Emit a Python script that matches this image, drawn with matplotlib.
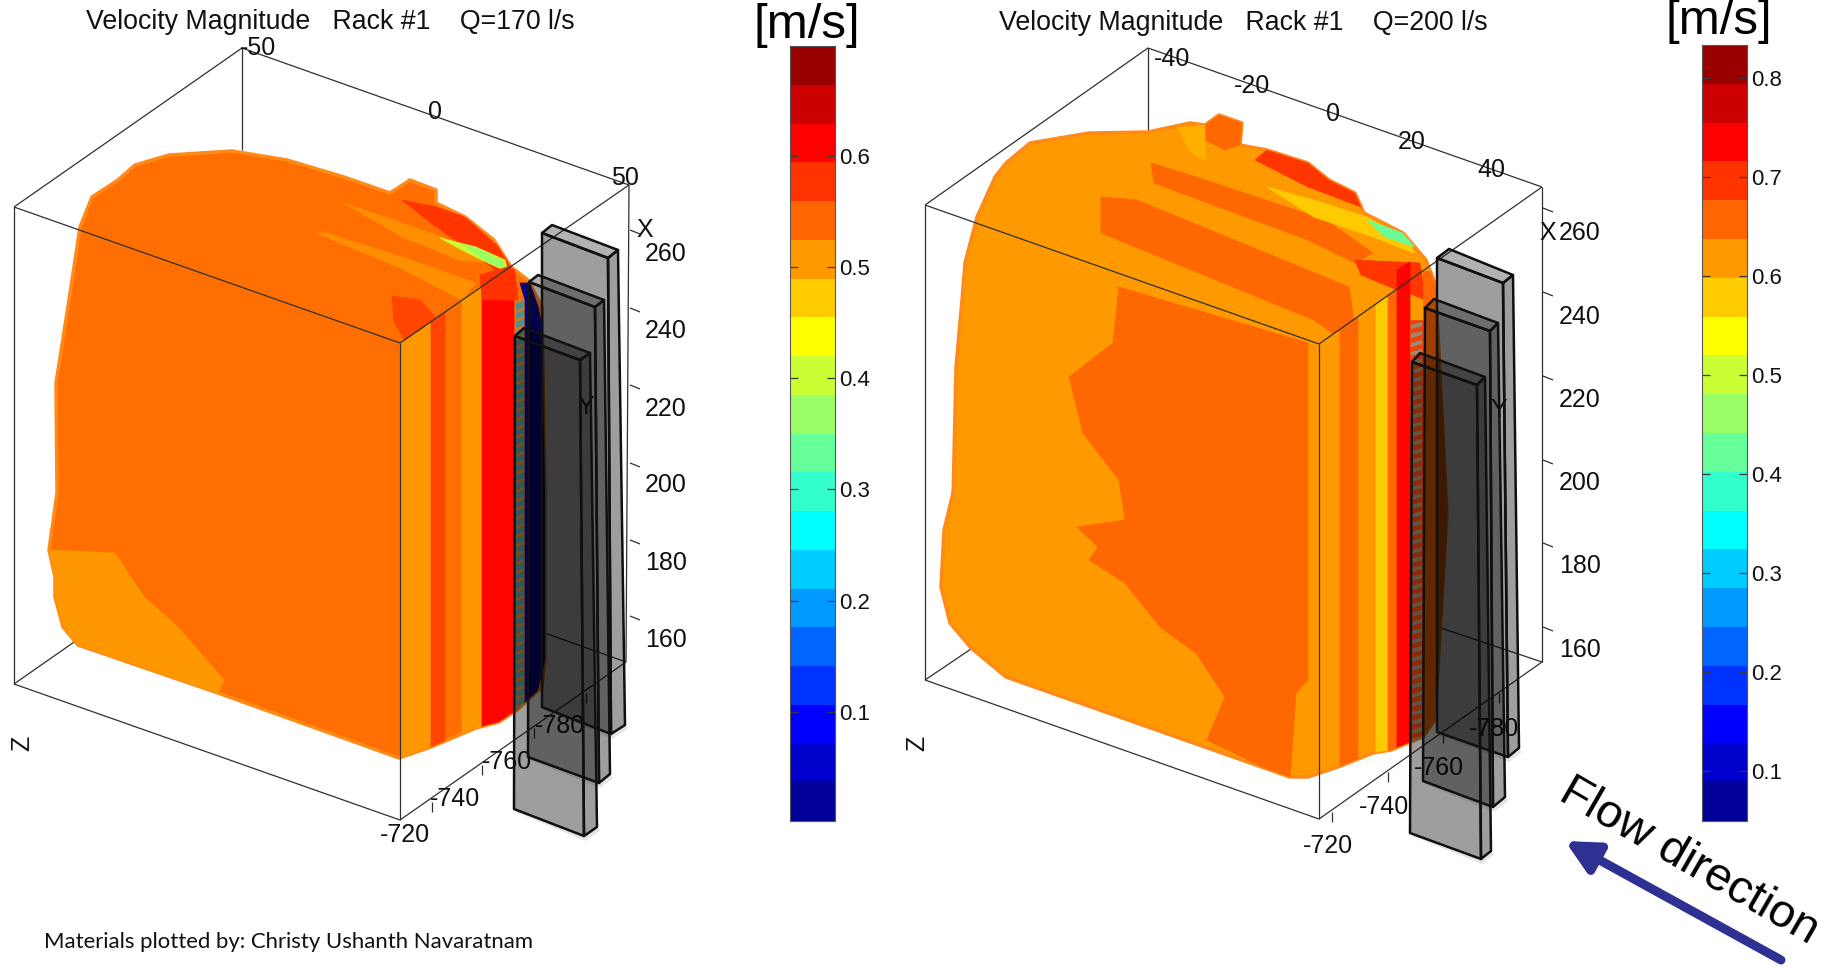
import numpy as np
from matplotlib import pyplot as plt
from matplotlib.colors import ListedColormap, BoundaryNorm
from matplotlib.patches import Polygon

plt.rcParams['font.family']=['Liberation Sans','DejaVu Sans']

W=1827
H=966

#20 contour levels, same on both bars
band_colors=['#000099','#0000CC','#0000FF','#0033FF','#0066FF','#0099FF','#00CCFF','#00FFFF','#33FFCC','#66FF99',
             '#99FF66','#CCFF33','#FFFF00','#FFCC00','#FF9900','#FF6600','#FF3300','#FF0000','#CC0000','#990000']
left_range=[0.002,0.6985]
right_range=[0.0495,0.833]
left_bar_ticks=[0.1,0.2,0.3,0.4,0.5,0.6]
right_bar_ticks=[0.1,0.2,0.3,0.4,0.5,0.6,0.7,0.8]

#left panel, picture pixels
left_solid=[(56,383),(69,300),(80,227),(92,197),(118,180),(135,165),(169,155),(232,151),(287,160),(344,177),(390,193),
            (410,180),(436,190),(436,203),(465,217),(494,240),(511,267),(528,280),(542,307),(545,500),(545,657),(542,687),
            (517,710),(499,722),(476,728),(431,747),(399,758),(218,693),(78,645),(63,627),(55,597),(55,577),(49,550),(57,493)]
left_strips=[
    ([(49,550),(115,553),(144,597),(178,627),(224,680),(218,693),(78,645),(63,627),(55,597)],'#FF9900'),
    ([(400,343),(431,322),(431,760),(400,770)],'#FF9900'),
    ([(431,322),(445,312),(445,760),(431,760)],'#FF4400'),
    ([(462,300),(482,285),(482,740),(462,740)],'#FF9900'),
    ([(316,233),(327,233),(402,257),(476,283),(462,300),(400,268)],'#FF9000'),
    ([(344,203),(402,223),(459,243),(494,263),(459,260),(402,237)],'#FF9000'),
    ([(392,296),(420,300),(436,318),(431,322),(405,340),(394,322)],'#FF4400'),
    ([(482,285),(514,270),(514,730),(482,730)],'#FF0000'),
    ([(402,200),(436,207),(465,217),(499,247),(511,267),(505,277),(459,243),(431,223)],'#FF3300'),
    ([(440,238),(476,247),(505,260),(508,272),(488,263),(462,250)],'#CCFF33'),
    ([(462,244),(482,250),(503,262),(506,270),(488,262)],'#99FF66'),
    ([(480,275),(514,265),(518,300),(482,300)],'#FF3300'),
    ([(515,300),(525,300),(525,720),(515,720)],'#C08030'),
    ([(520,283),(530,283),(538,307),(545,340),(545,660),(535,700),(525,710),(525,300)],'#000080'),
]
left_racks=[
    [(542,233),(552,225),(618,250),(608,258),(542,707),(611,734),(625,725)],
    [(529,282),(538,275),(604,300),(595,307),(528,757),(599,783),(610,774)],
    [(515,336),(524,328),(590,353),(580,360),(514,809),(584,836),(597,827)],
]
left_box=dict(back=(242,48),left=(14,207),front=(400,343),right=(629,185),left_low=(14,684),front_low=(400,820),right_low=(626,662),
              stub=(77,640),hidden=(542,632))
left_top_labels=[('-50',258,46),('0',435,110),('50',625,176)]
left_y_labels=[('260',666,252),('240',666,329),('220',666,407),('200',666,483),('180',666,561),('160',666,638)]
left_y_tick_rows=[230,308,385,463,540,616]
left_low_labels=[('-720',405,833),('-740',455,797),('-760',507,760),('-780',560,724)]
left_low_ticks=[(432,802),(482,765),(534,728),(586,693)]

#right panel, picture pixels
right_solid=[(953,500),(956,367),(962,300),(965,263),(977,217),(995,177),(1006,163),(1030,143),(1089,133),(1148,132),(1190,123),
             (1205,125),(1219,115),(1242,123),(1240,145),(1267,150),(1308,163),(1329,180),(1355,193),(1364,213),(1403,233),
             (1426,260),(1435,283),(1438,333),(1447,513),(1435,720),(1423,737),(1391,750),(1373,753),(1338,767),(1308,777),
             (1290,777),(1006,677),(971,648),(950,623),(941,587),(944,530),(953,493)]
right_strips=[
    ([(1119,287),(1308,343),(1308,680),(1296,693),(1290,780),(1207,740),(1225,697),(1196,653),(1160,627),(1125,583),(1089,560),
      (1098,547),(1077,527),(1125,520),(1119,480),(1083,433),(1069,377),(1113,343)],'#FF6600'),
    ([(1101,197),(1137,200),(1349,287),(1355,327),(1332,333),(1314,320),(1101,233)],'#FF6600'),
    ([(1151,163),(1196,177),(1326,220),(1373,253),(1355,263),(1308,240),(1154,183)],'#FF6600'),
    ([(1340,329),(1358,317),(1358,780),(1340,780)],'#FF6600'),
    ([(1376,304),(1388,295),(1388,780),(1376,780)],'#FFCC00'),
    ([(1388,295),(1397,289),(1397,780),(1388,780)],'#FF6600'),
    ([(1205,125),(1219,115),(1242,123),(1240,145),(1225,150),(1205,140)],'#FF6600'),
    ([(1178,128),(1205,125),(1205,160),(1190,152)],'#FFB000'),
    ([(1267,150),(1308,163),(1329,180),(1355,193),(1361,207),(1308,187),(1255,160)],'#FF3300'),
    ([(1267,187),(1314,200),(1367,217),(1409,240),(1414,253),(1373,237),(1314,217)],'#FFCC00'),
    ([(1367,220),(1403,233),(1415,247),(1385,237)],'#66FF99'),
    ([(1355,260),(1420,263),(1426,300),(1397,289),(1397,290),(1361,275)],'#FF3300'),
    ([(1397,270),(1410,262),(1410,760),(1397,760)],'#FF0000'),
    ([(1410,320),(1423,320),(1423,745),(1410,745)],'#E84010'),
    ([(1423,271),(1447,271),(1447,740),(1423,740)],'#FF6600'),
]
right_racks=[
    [(1437,258),(1449,249),(1513,275),(1503,283),(1437,732),(1508,757),(1519,748)],
    [(1425,308),(1434,299),(1498,323),(1490,331),(1423,781),(1493,807),(1505,797)],
    [(1412,362),(1420,353),(1485,377),(1477,385),(1410,833),(1481,859),(1491,851)],
]
right_box=dict(back=(1148,48),left=(925,205),front=(1319,344),right=(1542,187),left_low=(925,680),front_low=(1319,819),right_low=(1542,662),
               stub=(971,649),hidden=(1435,626))
right_top_labels=[('-40',1172,57),('-20',1252,84),('0',1333,112),('20',1412,140),('40',1491,168)]
right_y_labels=[('260',1580,231),('240',1580,315),('220',1580,398),('200',1580,481),('180',1580,564),('160',1580,648)]
right_y_tick_rows=[208,292,376,460,543,627]
right_low_labels=[('-720',1328,844),('-740',1384,805),('-760',1439,766),('-780',1494,727)]
right_low_ticks=[(1332,812),(1388,772),(1443,733),(1499,693)]

fig=plt.figure(figsize=(W/100,H/100),dpi=100)
ax=fig.add_axes([0,0,1,1])
ax.set_xlim(0,W)
ax.set_ylim(H,0)
ax.axis('off')

def seg(a,b,z=3,c='#303030',lw=0.9):
    ax.plot([a[0],b[0]],[a[1],b[1]],color=c,lw=lw,zorder=z,solid_capstyle='butt')

def draw_solid(solid,base,strips):
    p=Polygon(solid,closed=True,facecolor=base,edgecolor='#FF8A18',lw=2.5,zorder=2,joinstyle='round')
    ax.add_patch(p)
    for pts,col in strips:
        s=Polygon(pts,closed=True,facecolor=col,edgecolor=col,lw=0.5,zorder=2.1,alpha=0.97)
        ax.add_patch(s)
        s.set_clip_path(p)
    return p

def draw_box(box):
    for a,b in [(box['back'],(box['back'][0],150)),(box['back'],box['left']),(box['back'],box['right']),
                (box['left'],box['left_low']),(box['left_low'],box['stub']),(box['left_low'],box['front_low']),
                (box['hidden'],box['right_low']),(box['right'],box['right_low']),(box['front_low'],box['right_low'])]:
        seg(a,b,z=1)
    #edges that stay in front of the solid
    seg(box['left'],box['front'])
    seg(box['front'],box['front_low'])
    seg(box['front'],box['right'])

def draw_rack(r):
    fl,bl,br,fr,flb,frb,rb=r
    ax.add_patch(Polygon([(flb[0]+2,flb[1]+3),(frb[0]+1,frb[1]+5),(rb[0]+3,rb[1]+4),rb,frb,flb],closed=True,facecolor='black',alpha=0.10,edgecolor='none',zorder=4))
    ax.add_patch(Polygon([fl,fr,frb,flb],closed=True,facecolor='black',alpha=0.38,edgecolor='none',zorder=5))
    ax.add_patch(Polygon([fr,br,rb,frb],closed=True,facecolor='black',alpha=0.38,edgecolor='none',zorder=5))
    ax.add_patch(Polygon([fl,bl,br,fr],closed=True,facecolor='black',alpha=0.30,edgecolor='none',zorder=5))
    for pts in [[fl,fr,frb,flb],[fr,br,rb,frb],[fl,bl,br,fr]]:
        ax.add_patch(Polygon(pts,closed=True,facecolor='none',edgecolor='#101010',lw=1.8,zorder=6,joinstyle='round'))

def draw_labels(title,title_xy,top_labels,y_labels,y_ticks,y_tick_x,low_labels,low_ticks,x_mark,y_mark,z_mark):
    ax.text(title_xy[0],title_xy[1],title,fontsize=19.3,ha='center',va='center',color='#111111',zorder=8)
    for txt,x,y in top_labels+y_labels+low_labels:
        ax.text(x,y+2,txt,fontsize=18,ha='center',va='center',color='#111111',zorder=3.5)
    for row in y_ticks:
        seg((y_tick_x,row),(y_tick_x+10,row+4),z=1)
    for x,y in low_ticks:
        seg((x,y),(x,y+10),z=3)
    ax.text(x_mark[0],x_mark[1]+2,'X',fontsize=18,ha='center',va='center',color='#111111',zorder=3.5)
    ax.text(y_mark[0],y_mark[1]+2,'Y',fontsize=18,ha='center',va='center',color='#222222',zorder=3.5)
    ax.text(z_mark[0]+2,z_mark[1],'Z',fontsize=18,rotation=90,ha='center',va='center',color='#111111',zorder=3.5)

#left panel
draw_box(left_box)
left_patch=draw_solid(left_solid,'#FF6E00',left_strips)
for row in np.arange(304,716,9):
    d=ax.add_patch(Polygon([(516,row),(524,row-3),(524,row+3),(516,row+6)],closed=True,facecolor='#4F8F8F',edgecolor='none',zorder=2.2))
    d.set_clip_path(left_patch)
for r in left_racks:
    draw_rack(r)
draw_labels('Velocity Magnitude   Rack #1    Q=170 l/s',(330,22),left_top_labels,left_y_labels,left_y_tick_rows,630,left_low_labels,left_low_ticks,(645,228),(586,405),(20,743))

#right panel
draw_box(right_box)
right_patch=draw_solid(right_solid,'#FF9900',right_strips)
for row in np.arange(325,740,9):
    d=ax.add_patch(Polygon([(1411,row),(1422,row-3),(1422,row+1),(1411,row+4)],closed=True,facecolor='#9A8A70',edgecolor='none',zorder=2.2))
    d.set_clip_path(right_patch)
for r in right_racks:
    draw_rack(r)
draw_labels('Velocity Magnitude   Rack #1    Q=200 l/s',(1243,23),right_top_labels,right_y_labels,right_y_tick_rows,1543,right_low_labels,right_low_ticks,(1548,231),(1499,408),(915,743))

#color bars
cmap=ListedColormap(band_colors)
def color_bar(x0,x1,y0,y1,rng,ticks):
    cax=fig.add_axes([x0/W,1-y1/H,(x1-x0)/W,(y1-y0)/H])
    levels=np.linspace(rng[0],rng[1],21)
    cax.pcolormesh([0,1],levels,np.arange(20).reshape(-1,1),cmap=cmap,norm=BoundaryNorm(np.arange(-0.5,20.5),20))
    cax.set_xticks([])
    cax.set_yticks(ticks)
    cax.set_yticklabels(['%.1f' % t for t in ticks],fontsize=16,color='#111111')
    cax.yaxis.tick_right()
    cax.tick_params(axis='y',direction='in',left=True,right=True,length=6,width=0.9,color='#3a3a3a',pad=3)
    for s in cax.spines.values():
        s.set_color('#555555')
        s.set_linewidth(0.8)

color_bar(790,835,46,821,left_range,left_bar_ticks)
color_bar(1702,1747,45,821,right_range,right_bar_ticks)

ax.text(807,26,'[m/s]',fontsize=35.5,ha='center',va='center',color='black',zorder=8)
ax.text(1719,21,'[m/s]',fontsize=35.5,ha='center',va='center',color='black',zorder=8)

#annotations
ax.text(289,942,'Materials plotted by: Christy Ushanth Navaratnam',fontsize=15.9,family=['Lato','DejaVu Sans'],ha='center',va='center',color='#111111')
ax.text(1689,861,'Flow direction',fontsize=34,rotation=-30,rotation_mode='anchor',ha='center',va='center',color='black',zorder=8)
ax.annotate('',xy=(1565,841),xytext=(1781,960),arrowprops=dict(arrowstyle='-|>,head_length=0.8,head_width=0.4',color='#2E3192',lw=6.5,mutation_scale=24,shrinkA=0,shrinkB=0),zorder=7)

plt.savefig('out.png',dpi=100)
print('program concluded')
